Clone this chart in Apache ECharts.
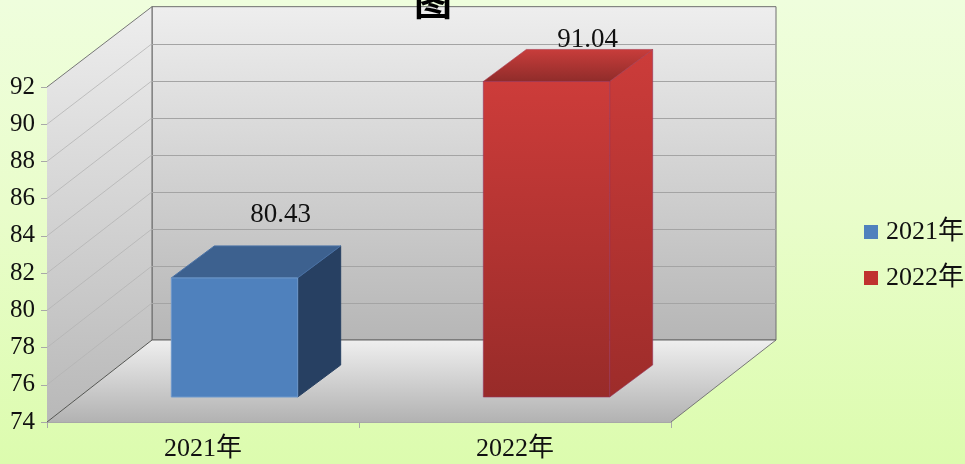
<!DOCTYPE html>
<html>
<head>
<meta charset="utf-8">
<style>html,body{margin:0;padding:0;background:#e4fdc4}#chart{width:965px;height:464px}</style>
<script src="https://cdn.jsdelivr.net/npm/echarts@6/dist/echarts.min.js"></script>
</head>
<body>
<div id="chart"></div>
<script>
const categories = ['2021年', '2022年'];
const values2021 = [[0, 80.43]];
const values2022 = [[1, 91.04]];
const yTicks = [74, 76, 78, 80, 82, 84, 86, 88, 90, 92];
const titleText = '图';

const FONT = '"Liberation Serif","Noto Sans CJK SC",serif';
const WALL = [105, -82];       // depth of the floor
const BAR_FRONT = [31.5, -25]; // front of the bars inside the depth
const BAR_DEPTH = [43, -32];   // depth of a bar
const DEPTH_SCALE = 0.995;
const grad = (a, b) => new echarts.graphic.LinearGradient(0, 0, 0, 1, [
  { offset: 0, color: a }, { offset: 1, color: b }
]);

function renderWalls(params, api) {
  const c = params.coordSys;
  const x0 = c.x, x1 = c.x + c.width, yT = c.y, yB = c.y + c.height;
  const topBack = yB + WALL[1] - c.height * DEPTH_SCALE;
  const bx0 = x0 + WALL[0], bx1 = x1 + WALL[0], by = yB + WALL[1];
  const poly = (points, style) => ({ type: 'polygon', shape: { points }, style });
  return {
    type: 'group',
    children: [
      poly([[bx0, topBack], [bx1, topBack], [bx1, by], [bx0, by]],
        { fill: grad('#eeeeee', '#b6b6b6'), stroke: '#6f6f6f', lineWidth: 1 }),
      poly([[x0, yT], [bx0, topBack], [bx0, by], [x0, yB]],
        { fill: grad('#eeeeee', '#b8b8b8'), stroke: null }),
      { type: 'line', shape: { x1: x0, y1: yT, x2: bx0, y2: topBack }, style: { stroke: '#777', lineWidth: 1 } },
      poly([[bx0, by], [bx1, by], [x1, yB], [x0, yB]],
        { fill: grad('#efefef', '#b2b2b2'), stroke: null }),
      { type: 'line', shape: { x1: x0, y1: yB, x2: bx0, y2: by }, style: { stroke: '#555', lineWidth: 1 } },
      { type: 'line', shape: { x1: x1, y1: yB, x2: bx1, y2: by }, style: { stroke: '#777', lineWidth: 1 } },
      { type: 'line', shape: { x1: bx0, y1: by, x2: bx1, y2: by }, style: { stroke: '#666', lineWidth: 1 } },
      { type: 'line', shape: { x1: bx0, y1: topBack, x2: bx0, y2: by }, style: { stroke: '#666', lineWidth: 1 } }
    ]
  };
}

function renderGrid(params, api) {
  const v = api.value(0);
  const c = params.coordSys;
  if (v === 74) return { type: 'group', children: [] };
  const yB = c.y + c.height;
  const y = api.coord([0, v])[1];
  const by = yB + WALL[1] - (yB - y) * DEPTH_SCALE;
  const x0 = c.x, bx0 = x0 + WALL[0], bx1 = x0 + c.width + WALL[0];
  const isTop = v === 92;
  return {
    type: 'group',
    children: isTop ? [] : [
      { type: 'line', shape: { x1: x0, y1: y, x2: bx0, y2: by }, style: { stroke: '#b4b4b4', lineWidth: 0.8 } },
      { type: 'line', shape: { x1: bx0, y1: Math.round(by) + 0.5, x2: bx1, y2: Math.round(by) + 0.5 }, style: { stroke: '#a4a4a4', lineWidth: 1 } }
    ]
  };
}

function makeBar(look) {
  return function (params, api) {
    const cat = api.value(0), val = api.value(1);
    const band = api.size([1, 0])[0];
    const w = band * 0.405;
    const base = api.coord([cat, 74]);
    const top = api.coord([cat, val]);
    const xL = base[0] + BAR_FRONT[0] - w / 2, xR = xL + w;
    const yB = base[1] + BAR_FRONT[1];
    const yT = yB - (base[1] - top[1]) * DEPTH_SCALE;
    const dx = BAR_DEPTH[0], dy = BAR_DEPTH[1];
    const poly = (points, fill, stroke) => ({ type: 'polygon', shape: { points }, style: { fill, stroke, lineWidth: 1 } });
    return {
      type: 'group',
      children: [
        poly([[xR, yT], [xR + dx, yT + dy], [xR + dx, yB + dy], [xR, yB]], look.side, look.sideEdge),
        poly([[xL, yT], [xL + dx, yT + dy], [xR + dx, yT + dy], [xR, yT]], look.top, look.topEdge),
        poly([[xL, yT], [xR, yT], [xR, yB], [xL, yB]], look.front, look.frontEdge),
        {
          type: 'text',
          style: {
            x: xL + w / 2 + look.labelDx,
            y: yT - look.labelLift,
            text: api.value(1).toFixed(2),
            fill: '#111',
            font: '27px ' + FONT,
            align: 'center',
            verticalAlign: 'middle'
          }
        }
      ]
    };
  };
}

const chart = echarts.init(document.getElementById('chart'), null, { renderer: 'canvas' });
chart.setOption({
  animation: false,
  backgroundColor: new echarts.graphic.LinearGradient(0, 0, 0, 1, [
    { offset: 0, color: '#effedd' },
    { offset: 0.45, color: '#e9fdcb' },
    { offset: 1, color: '#dcfcae' }
  ]),
  title: {
    text: titleText,
    left: 409, top: -23,
    textStyle: { fontFamily: '"Noto Sans CJK SC",serif', fontWeight: 'bold', fontSize: 38, color: '#000' }
  },
  legend: {
    data: categories,
    orient: 'vertical',
    left: 859, top: 214,
    icon: 'rect',
    itemWidth: 14, itemHeight: 14, itemGap: 20,
    textStyle: { fontFamily: FONT, fontSize: 26, color: '#111', padding: [0, 0, 0, 3] }
  },
  grid: { left: 47, right: 294, top: 87, bottom: 42 },
  xAxis: {
    type: 'category',
    data: categories,
    boundaryGap: true,
    axisLine: { lineStyle: { color: '#a8a8a8' } },
    axisTick: { show: true, length: 6, alignWithLabel: false, lineStyle: { color: '#a8a8a8' } },
    axisLabel: { fontFamily: FONT, fontSize: 26, color: '#111', margin: 14 }
  },
  yAxis: {
    type: 'value',
    min: 74, max: 92, interval: 2,
    axisLine: { show: false },
    axisTick: { show: true, length: 6, lineStyle: { color: '#a8a8a8' } },
    axisLabel: { fontFamily: FONT, fontSize: 25, color: '#111', margin: 12, padding: [5, 0, 0, 0] },
    splitLine: { show: false }
  },
  series: [
    { type: 'custom', name: 'walls', silent: true, z: 1, data: [[0, 74]], renderItem: renderWalls },
    { type: 'custom', name: 'gridlines', silent: true, z: 2, data: yTicks.map(v => [v]), encode: { y: 0 }, renderItem: renderGrid },
    {
      type: 'custom', name: categories[0], z: 3, clip: false,
      itemStyle: { color: '#4f81bd' },
      data: values2021,
      encode: { x: 0, y: 1 },
      renderItem: makeBar({
        front: '#4f81bd', frontEdge: '#6f99cc',
        side: '#274062', sideEdge: '#274062',
        top: '#3d618f', topEdge: '#4a72a6',
        labelDx: 46, labelLift: 63
      })
    },
    {
      type: 'custom', name: categories[1], z: 3, clip: false,
      itemStyle: { color: '#c0322f' },
      data: values2022,
      encode: { x: 0, y: 1 },
      renderItem: makeBar({
        front: grad('#cd3c3a', '#982b29'), frontEdge: 'rgba(150,50,90,0.6)',
        side: grad('#cc3c3a', '#9d2c2a'), sideEdge: 'rgba(150,50,90,0.6)',
        top: grad('#c93d3b', '#8f2c2a'), topEdge: 'rgba(170,60,80,0.6)',
        labelDx: 41, labelLift: 42
      })
    }
  ]
});
</script>
</body>
</html>
